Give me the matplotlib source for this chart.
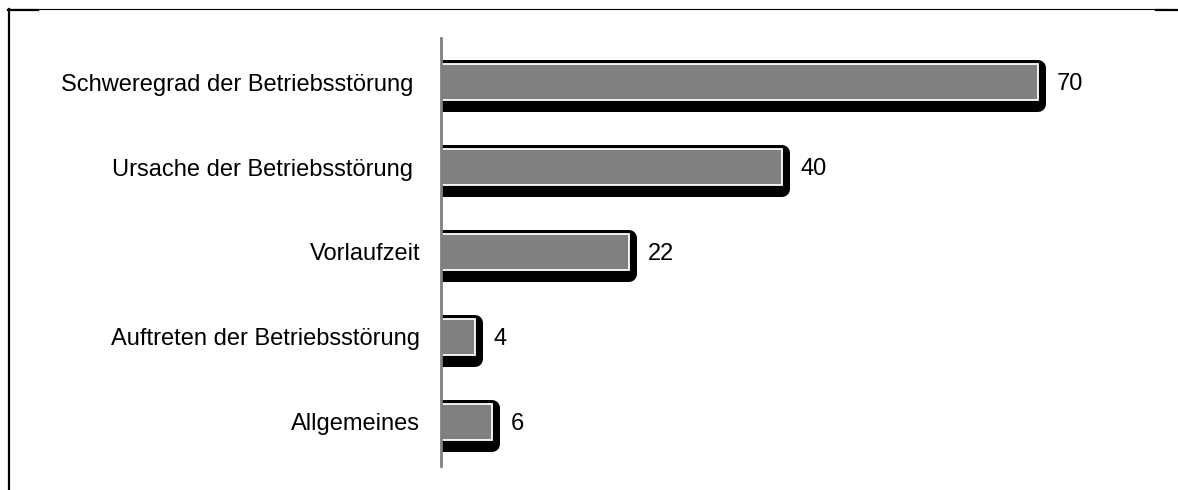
import matplotlib
matplotlib.use("Agg")
import matplotlib.pyplot as plt
from matplotlib.lines import Line2D
from matplotlib.patches import Rectangle
import matplotlib.transforms as mtransforms

plt.rcParams['font.family'] = ['Liberation Sans', 'DejaVu Sans']

categories = ['Schweregrad der Betriebsstörung', 'Ursache der Betriebsstörung',
              'Vorlaufzeit', 'Auftreten der Betriebsstörung', 'Allgemeines']
values = [70, 40, 22, 4, 6]

W, H = 1178, 490
fig = plt.figure(figsize=(W / 100, H / 100), dpi=100)
ax = fig.add_axes([441 / W, 24 / H, 725 / W, 428 / H])

ypos = list(range(len(categories)))
bar_h = 0.42

# shadow: same rect shifted down, fat round-joined stroke
shift = mtransforms.ScaledTranslation(0, -4 / 100, fig.dpi_scale_trans)
for y, v in zip(ypos, values):
    r = Rectangle((0, y - bar_h / 2), v, bar_h, facecolor='black', edgecolor='black',
                  linewidth=16 * 0.72, joinstyle='round', transform=ax.transData + shift,
                  zorder=1)
    ax.add_patch(r)

ax.barh(ypos, values, height=bar_h, color='#808080', edgecolor='white',
        linewidth=1.3, zorder=2)

fs = 17
for y, v in zip(ypos, values):
    ax.annotate(str(v), (v, y), xytext=(13.5, -1.5), textcoords='offset points',
                ha='left', va='center', fontsize=fs, color='black')

ax.set_xlim(0, 85)
ax.set_ylim(len(categories) - 0.48, -0.52)
ax.set_yticks(ypos)
ax.set_yticklabels(categories, fontsize=fs)
ax.tick_params(axis='y', length=0, pad=15)
# the first two labels sit a little further left in the original
for lab in ax.get_yticklabels()[:2]:
    lab.set_transform(lab.get_transform() +
                      mtransforms.ScaledTranslation(-7 / 100, 0, fig.dpi_scale_trans))
ax.set_xticks([])
for s in ['top', 'right', 'bottom']:
    ax.spines[s].set_visible(False)
ax.spines['left'].set_color('#808080')
ax.spines['left'].set_linewidth(2)
ax.spines['left'].set_zorder(5)

# outer frame fragments
fig.add_artist(Line2D([8 / W, 1168 / W], [1 - 9.5 / H, 1 - 9.5 / H], color='black', lw=0.8))
fig.add_artist(Line2D([8 / W, 38 / W], [1 - 10 / H, 1 - 10 / H], color='black', lw=1.6))
fig.add_artist(Line2D([1156 / W, 1178 / W], [1 - 10 / H, 1 - 10 / H], color='black', lw=1.6))
fig.add_artist(Line2D([9 / W, 9 / W], [1 - 9 / H, 0], color='black', lw=1.6))

fig.savefig('out.png', dpi=100)
